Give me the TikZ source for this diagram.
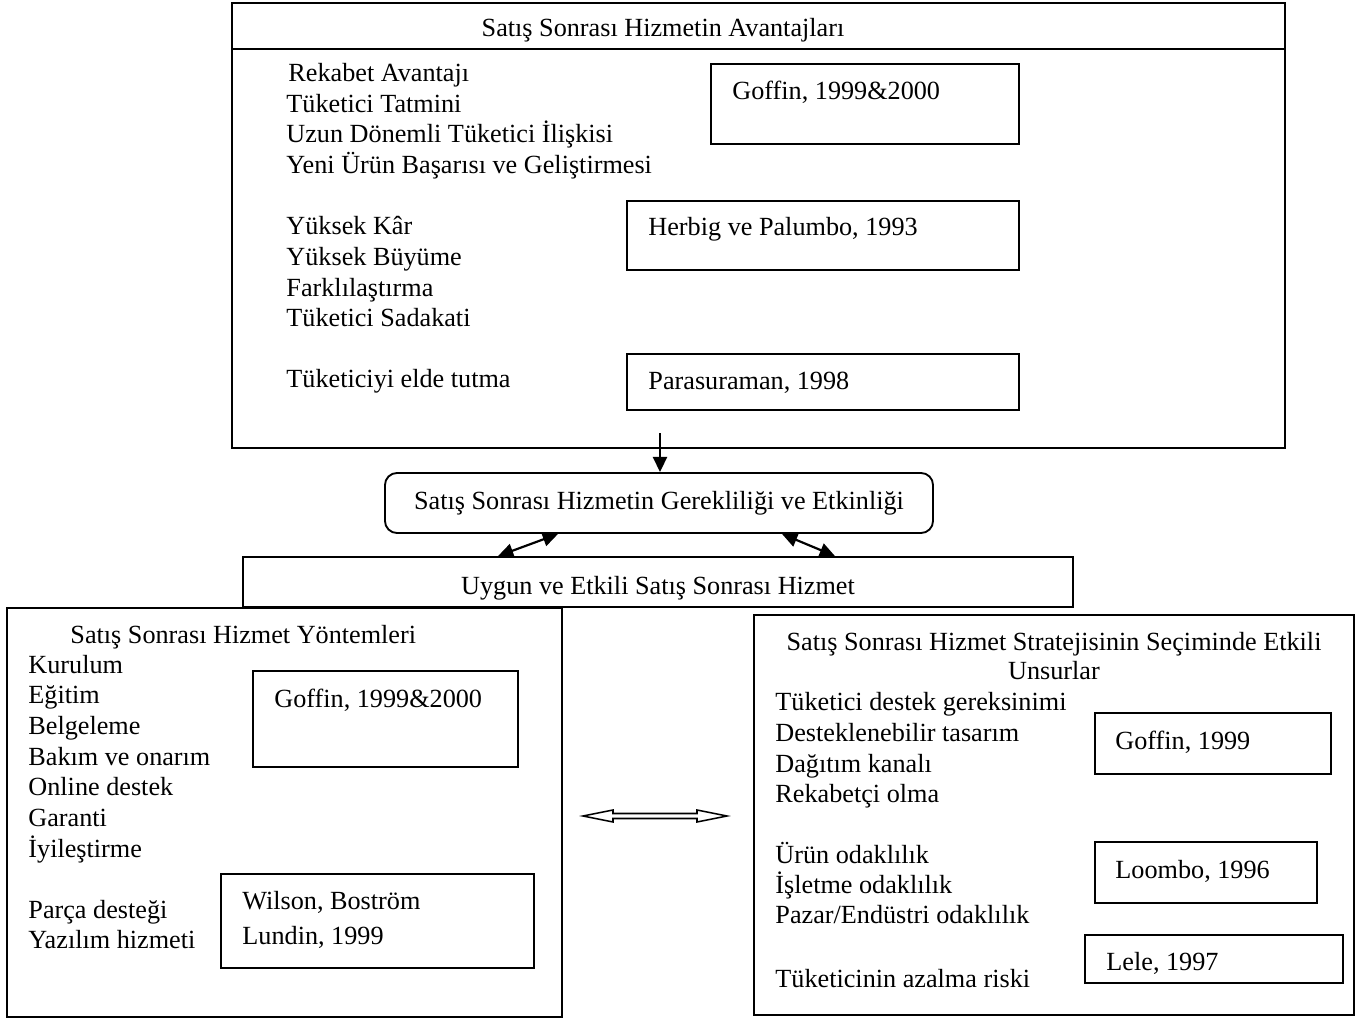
\documentclass[tikz,border=0pt]{standalone}
\usepackage{fontspec}
\setmainfont{Liberation Serif}
\usetikzlibrary{arrows.meta,calc}

\tikzset{
  refbox/.style={draw,line width=0.85pt},
  item/.style={anchor=base west,inner sep=0pt},
  conn/.style={line width=1pt},
}

\begin{document}
\begin{tikzpicture}[x=0.458pt,y=-0.458pt,>={Triangle[length=7pt,width=6.5pt]},
    font=\fontsize{12}{14}\selectfont]
  \useasboundingbox (0,0) rectangle (1363,1021);

  % avantajlar
  \draw[refbox] (232,3) rectangle (1285,448);
  \draw[refbox] (232,49) -- (1285,49);
  \node[inner sep=0pt,anchor=base] (avtitle) at (663,37) {Satış Sonrası Hizmetin Avantajları};
  \node[item] (av0) at (288,82) {Rekabet Avantajı};
  \foreach \y/\t [count=\i] in {113/{Tüketici Tatmini},143/{Uzun Dönemli Tüketici İlişkisi},
      174/{Yeni Ürün Başarısı ve Geliştirmesi},235/{Yüksek Kâr},266/{Yüksek Büyüme},
      297/{Farklılaştırma},327/{Tüketici Sadakati},388/{Tüketiciyi elde tutma}} {
    \node[item] (av\i) at (286,\y) {\t};
  }
  \draw[refbox] (711,64) rectangle (1019,144);
  \node[item] (avref1) at (732,100) {Goffin, 1999\&2000};
  \draw[refbox] (627,201) rectangle (1019,270);
  \node[item] (avref2) at (648,236) {Herbig ve Palumbo, 1993};
  \draw[refbox] (627,354) rectangle (1019,410);
  \node[item] (avref3) at (648,390) {Parasuraman, 1998};

  % orta kutular
  \node[refbox,rounded corners=5.5pt,minimum width=251pt,minimum height=27.5pt,inner sep=0pt]
    (gerek) at (659,503) {Satış Sonrası Hizmetin Gerekliliği ve Etkinliği};
  \node[refbox,minimum width=380pt,minimum height=22.9pt,inner sep=0pt,text height=14pt,text depth=3pt]
    (uygun) at (658,582) {Uygun ve Etkili Satış Sonrası Hizmet};
  \coordinate (avout) at (660,433);
  \draw[conn,->] (avout) -- (avout |- gerek.north);
  \draw[conn,<->] ($(gerek.south)+(-101,0)$) -- ($(uygun.north)+(-160,0)$);
  \draw[conn,<->] ($(gerek.south)+(123,0)$) -- ($(uygun.north)+(177,0)$);

  % yontemler
  \draw[refbox] (7,608) rectangle (562,1017);
  \node[item] (yontitle) at (70,643) {Satış Sonrası Hizmet Yöntemleri};
  \foreach \y/\t [count=\i] in {673/Kurulum,703/Eğitim,734/Belgeleme,765/{Bakım ve onarım},
      795/{Online destek},826/Garanti,857/İyileştirme,918/{Parça desteği},948/{Yazılım hizmeti}} {
    \node[item] (yon\i) at (28,\y) {\t};
  }
  \draw[refbox] (253,671) rectangle (518,767);
  \node[item] (yonref1) at (274,707) {Goffin, 1999\&2000};
  \draw[refbox] (221,874) rectangle (534,968);
  \node[item] (yonref2) at (242,909) {Wilson, Boström};
  \node[item] (yonref3) at (242,944) {Lundin, 1999};

  % iki yonlu bos ok
  \draw[line width=0.7pt] (583,816) -- (613,810) -- (613,813.5) -- (697,813.5) -- (697,810)
    -- (727,816) -- (697,822) -- (697,818.5) -- (613,818.5) -- (613,822) -- cycle;

  % strateji unsurlari
  \draw[refbox] (754,615) rectangle (1354,1015);
  \node[inner sep=0pt,anchor=base] (unstitle1) at (1054,650) {Satış Sonrası Hizmet Stratejisinin Seçiminde Etkili};
  \node[inner sep=0pt,anchor=base] (unstitle2) at (1054,679) {Unsurlar};
  \foreach \y/\t [count=\i] in {710/{Tüketici destek gereksinimi},741/{Desteklenebilir tasarım},
      772/{Dağıtım kanalı},802/{Rekabetçi olma},863/{Ürün odaklılık},893/{İşletme odaklılık},
      923/{Pazar/Endüstri odaklılık},987/{Tüketicinin azalma riski}} {
    \node[item] (uns\i) at (775,\y) {\t};
  }
  \draw[refbox] (1095,713) rectangle (1331,774);
  \node[item] (unsref1) at (1115,749) {Goffin, 1999};
  \draw[refbox] (1095,842) rectangle (1317,903);
  \node[item] (unsref2) at (1115,878) {Loombo, 1996};
  \draw[refbox] (1085,935) rectangle (1343,983);
  \node[item] (unsref3) at (1106,970) {Lele, 1997};
\end{tikzpicture}
\end{document}
